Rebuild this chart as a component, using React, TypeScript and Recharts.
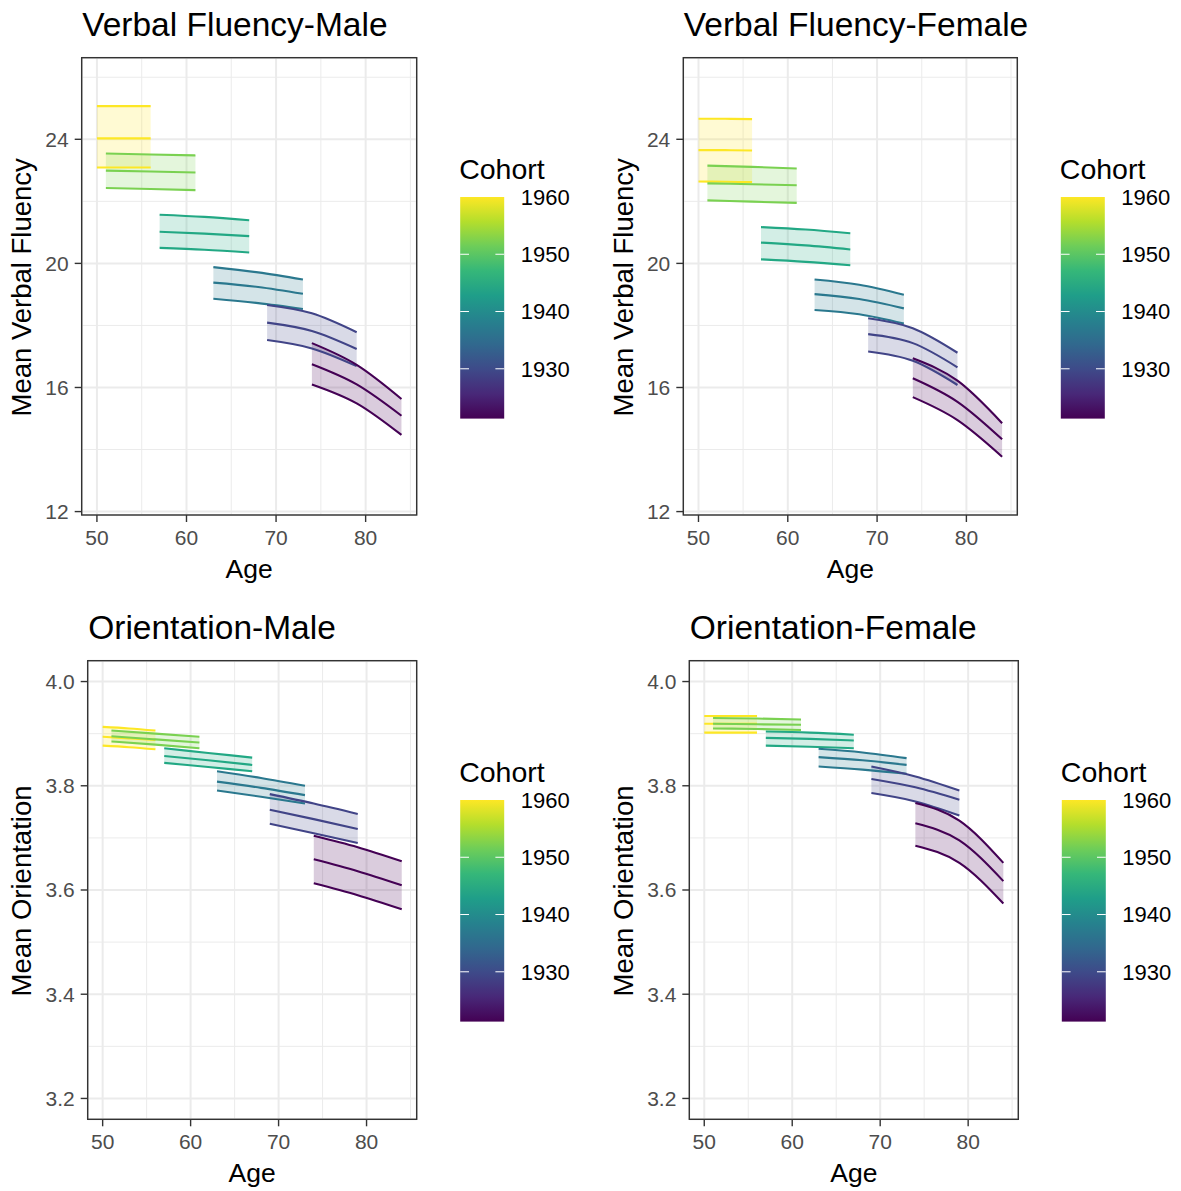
import React from 'react';
import { ComposedChart, Area, Line, XAxis, YAxis, CartesianGrid } from 'recharts';

const FONT = '"Liberation Sans", Arial, Helvetica, sans-serif';

// birth cohorts, newest first (colour follows the viridis scale)
const cohortYears = [1960, 1952, 1944, 1937, 1929, 1921];
const cohortColors = ['#FDE725', '#7AD151', '#22A884', '#2A788E', '#414487', '#440154'];
// start / middle / end age of every cohort
const cohortAges = [
  [50, 53, 56],
  [51, 56, 61],
  [57, 62, 67],
  [63, 68, 73],
  [69, 74, 79],
  [74, 79, 84],
];

const ageTicks = [50, 60, 70, 80];
const ageMinor = [55, 65, 75, 85];
const ageDomain: [number, number] = [48.3, 85.7];

const fluencyTicks = [12, 16, 20, 24];
const fluencyMinor = [14, 18, 22, 26];
const fluencyDomain: [number, number] = [11.89, 26.63];

const orientTicks = [3.2, 3.4, 3.6, 3.8, 4.0];
const orientMinor = [3.3, 3.5, 3.7, 3.9];
const orientDomain: [number, number] = [3.16, 4.04];

const legendBreaks = [1930, 1940, 1950, 1960];
const legendRange = [1921.3, 1960];
const viridis = ['#440154', '#482878', '#3E4A89', '#31688E', '#26828E', '#1F9E89', '#35B779', '#6DCD59', '#B4DE2C', '#FDE725'];

// Verbal fluency, male
const fluencyMaleUpper = [
  [25.07, 25.07, 25.07], [23.54, 23.51, 23.48], [21.57, 21.5, 21.39],
  [19.88, 19.71, 19.48], [18.66, 18.39, 17.78], [17.43, 16.73, 15.63],
];
const fluencyMaleMean = [
  [24.03, 24.03, 24.03], [22.99, 22.96, 22.93], [21.02, 20.96, 20.88],
  [19.38, 19.24, 19.02], [18.09, 17.82, 17.24], [16.75, 16.1, 15.09],
];
const fluencyMaleLower = [
  [23.09, 23.09, 23.09], [22.43, 22.4, 22.36], [20.5, 20.44, 20.35],
  [18.86, 18.72, 18.53], [17.53, 17.26, 16.69], [16.1, 15.49, 14.47],
];

// Verbal fluency, female
const fluencyFemaleUpper = [
  [24.66, 24.66, 24.65], [23.15, 23.11, 23.06], [21.17, 21.09, 20.97],
  [19.48, 19.31, 18.99], [18.23, 17.91, 17.12], [16.94, 16.22, 14.85],
];
const fluencyFemaleMean = [
  [23.65, 23.65, 23.64], [22.58, 22.55, 22.52], [20.67, 20.58, 20.45],
  [19.01, 18.85, 18.55], [17.72, 17.43, 16.65], [16.3, 15.54, 14.33],
];
const fluencyFemaleLower = [
  [22.64, 22.63, 22.62], [22.03, 21.99, 21.95], [20.13, 20.05, 19.94],
  [18.5, 18.36, 18.06], [17.16, 16.86, 16.08], [15.69, 14.95, 13.77],
];

// Orientation, male
const orientMaleUpper = [
  [3.913, 3.91, 3.906], [3.906, 3.9, 3.894], [3.872, 3.863, 3.854],
  [3.828, 3.815, 3.8], [3.784, 3.766, 3.746], [3.704, 3.682, 3.655],
];
const orientMaleMean = [
  [3.894, 3.891, 3.888], [3.895, 3.889, 3.883], [3.857, 3.849, 3.84],
  [3.808, 3.796, 3.782], [3.754, 3.736, 3.717], [3.659, 3.636, 3.609],
];
const orientMaleLower = [
  [3.877, 3.874, 3.87], [3.885, 3.879, 3.872], [3.844, 3.836, 3.828],
  [3.791, 3.779, 3.766], [3.727, 3.709, 3.69], [3.613, 3.59, 3.563],
];

// Orientation, female
const orientFemaleUpper = [
  [3.934, 3.934, 3.934], [3.93, 3.929, 3.927], [3.904, 3.902, 3.898],
  [3.871, 3.864, 3.853], [3.837, 3.818, 3.791], [3.767, 3.733, 3.652],
];
const orientFemaleMean = [
  [3.919, 3.919, 3.919], [3.919, 3.918, 3.917], [3.892, 3.89, 3.887],
  [3.855, 3.849, 3.84], [3.813, 3.797, 3.773], [3.728, 3.695, 3.617],
];
const orientFemaleLower = [
  [3.902, 3.902, 3.902], [3.91, 3.909, 3.907], [3.877, 3.875, 3.872],
  [3.837, 3.831, 3.823], [3.786, 3.77, 3.743], [3.685, 3.652, 3.574],
];

type Row = Record<string, number | number[]>;

function buildRows(lower: number[][], mean: number[][], upper: number[][]): Row[] {
  const rows = new Map<number, Row>();
  cohortAges.forEach((ages, i) => {
    ages.forEach((age, j) => {
      const row = rows.get(age) ?? { age };
      row[`lo${i}`] = lower[i][j];
      row[`mid${i}`] = mean[i][j];
      row[`hi${i}`] = upper[i][j];
      row[`band${i}`] = [lower[i][j], upper[i][j]];
      rows.set(age, row);
    });
  });
  return [...rows.values()].sort((a, b) => (a.age as number) - (b.age as number));
}

interface Box { left: number; top: number; right: number; bottom: number }

interface PanelProps {
  id: string;
  title: string;
  yTitle: string;
  x: number;
  y: number;
  plot: Box;
  yTitleX: number;
  lower: number[][];
  mean: number[][];
  upper: number[][];
  yDomain: [number, number];
  yTicks: number[];
  yMinor: number[];
  yFormat: (v: number) => string;
}

const tickStyle = { fill: '#4D4D4D', fontSize: 21, fontFamily: FONT };

const Panel: React.FC<PanelProps> = ({
  id, title, yTitle, x, y, plot, yTitleX, lower, mean, upper, yDomain, yTicks, yMinor, yFormat,
}) => {
  const data = buildRows(lower, mean, upper);
  const width = plot.right + 23;
  const height = plot.bottom + 76;
  const barX = plot.right + 43.5;
  const barTop = plot.top + 139.3;
  const barW = 44;
  const barH = 221.6;
  const legendY = (v: number) => barTop + ((legendRange[1] - v) / (legendRange[1] - legendRange[0])) * barH;
  const midY = (plot.top + plot.bottom) / 2;

  return (
    <div style={{ position: 'absolute', left: x, top: y, width: 600, height: 600 }}>
      <ComposedChart
        width={width}
        height={height}
        data={data}
        margin={{ top: plot.top, right: 23, left: plot.left - 60, bottom: 6 }}
      >
        <CartesianGrid stroke="#EBEBEB" strokeWidth={1} horizontalValues={yMinor} verticalValues={ageMinor} />
        <CartesianGrid stroke="#EBEBEB" strokeWidth={2} />
        <XAxis
          dataKey="age"
          type="number"
          domain={ageDomain}
          ticks={ageTicks}
          interval={0}
          allowDataOverflow
          height={70}
          axisLine={false}
          tickLine={{ stroke: '#333333', strokeWidth: 1.4 }}
          tickSize={7}
          tickMargin={8}
          tick={tickStyle}
        />
        <YAxis
          type="number"
          domain={yDomain}
          ticks={yTicks}
          interval={0}
          allowDataOverflow
          width={60}
          axisLine={false}
          tickLine={{ stroke: '#333333', strokeWidth: 1.4 }}
          tickSize={7}
          tickMargin={6}
          tick={tickStyle}
          tickFormatter={yFormat}
        />
        {cohortColors.map((c, i) => (
          <Area
            key={`band${i}`}
            dataKey={`band${i}`}
            name={`${cohortYears[i]}`}
            type="natural"
            fill={c}
            fillOpacity={0.2}
            stroke="none"
            connectNulls
            dot={false}
            activeDot={false}
            isAnimationActive={false}
          />
        ))}
        {cohortColors.map((c, i) =>
          ['lo', 'mid', 'hi'].map((k) => (
            <Line
              key={`${k}${i}`}
              dataKey={`${k}${i}`}
              type="natural"
              stroke={c}
              strokeWidth={2.1}
              connectNulls
              dot={false}
              activeDot={false}
              isAnimationActive={false}
            />
          ))
        )}
      </ComposedChart>
      <svg
        width={600}
        height={600}
        style={{ position: 'absolute', left: 0, top: 0, pointerEvents: 'none', overflow: 'visible' }}
        fontFamily={FONT}
      >
        <defs>
          <linearGradient id={`vir-${id}`} x1="0" y1="1" x2="0" y2="0">
            {viridis.map((c, i) => (
              <stop key={c} offset={`${(i / (viridis.length - 1)) * 100}%`} stopColor={c} />
            ))}
          </linearGradient>
        </defs>
        <rect
          x={plot.left}
          y={plot.top}
          width={plot.right - plot.left}
          height={plot.bottom - plot.top}
          fill="none"
          stroke="#333333"
          strokeWidth={1.4}
        />
        <text x={plot.left + 0.5} y={plot.top - 22} fontSize={33.5} fill="#000">{title}</text>
        <text x={(plot.left + plot.right) / 2} y={plot.bottom + 63} fontSize={26.5} textAnchor="middle" fill="#000">
          Age
        </text>
        <text
          x={yTitleX}
          y={midY + 1}
          fontSize={27.5}
          textAnchor="middle"
          fill="#000"
          transform={`rotate(-90 ${yTitleX} ${midY + 1})`}
        >
          {yTitle}
        </text>
        <text x={barX - 1} y={plot.top + 121.6} fontSize={28.5} fill="#000">Cohort</text>
        <rect x={barX} y={barTop} width={barW} height={barH} fill={`url(#vir-${id})`} />
        {legendBreaks.map((b) => (
          <g key={b}>
            {b < legendRange[1] && (
              <>
                <line x1={barX} x2={barX + 8.8} y1={legendY(b)} y2={legendY(b)} stroke="#fff" strokeWidth={1} />
                <line x1={barX + barW - 8.8} x2={barX + barW} y1={legendY(b)} y2={legendY(b)} stroke="#fff" strokeWidth={1} />
              </>
            )}
            <text x={barX + barW + 16.5} y={legendY(b) + 7.8} fontSize={22} fill="#000">{b}</text>
          </g>
        ))}
      </svg>
    </div>
  );
};

const fmtInt = (v: number) => String(v);
const fmtOne = (v: number) => v.toFixed(1);

export default function App() {
  return (
    <div
      style={{
        position: 'absolute', left: 0, top: 0, width: 1181, height: 1191,
        overflow: 'hidden', background: '#fff', fontFamily: FONT,
      }}
    >
      <Panel
        id="vfm" title="Verbal Fluency-Male" yTitle="Mean Verbal Fluency"
        x={0} y={0} plot={{ left: 81.7, top: 57.7, right: 416.7, bottom: 515 }} yTitleX={31}
        lower={fluencyMaleLower} mean={fluencyMaleMean} upper={fluencyMaleUpper}
        yDomain={fluencyDomain} yTicks={fluencyTicks} yMinor={fluencyMinor} yFormat={fmtInt}
      />
      <Panel
        id="vff" title="Verbal Fluency-Female" yTitle="Mean Verbal Fluency"
        x={600} y={0} plot={{ left: 83.3, top: 57.7, right: 417.3, bottom: 515 }} yTitleX={33}
        lower={fluencyFemaleLower} mean={fluencyFemaleMean} upper={fluencyFemaleUpper}
        yDomain={fluencyDomain} yTicks={fluencyTicks} yMinor={fluencyMinor} yFormat={fmtInt}
      />
      <Panel
        id="om" title="Orientation-Male" yTitle="Mean Orientation"
        x={0} y={595} plot={{ left: 87.7, top: 65.7, right: 416.7, bottom: 524.3 }} yTitleX={31}
        lower={orientMaleLower} mean={orientMaleMean} upper={orientMaleUpper}
        yDomain={orientDomain} yTicks={orientTicks} yMinor={orientMinor} yFormat={fmtOne}
      />
      <Panel
        id="of" title="Orientation-Female" yTitle="Mean Orientation"
        x={600} y={595} plot={{ left: 89.3, top: 65.7, right: 418.3, bottom: 524.3 }} yTitleX={33}
        lower={orientFemaleLower} mean={orientFemaleMean} upper={orientFemaleUpper}
        yDomain={orientDomain} yTicks={orientTicks} yMinor={orientMinor} yFormat={fmtOne}
      />
    </div>
  );
}
